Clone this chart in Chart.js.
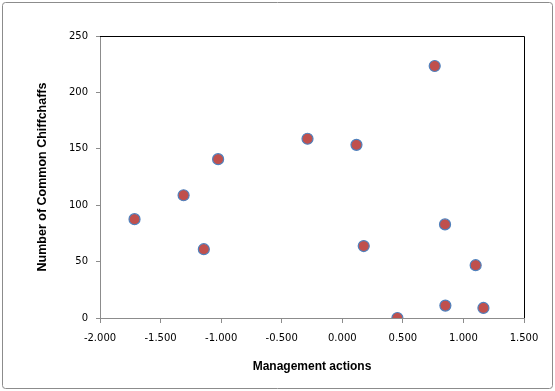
<!DOCTYPE html>
<html>
<head>
<meta charset="utf-8">
<script src="https://cdn.jsdelivr.net/npm/chart.js@4.4.0/dist/chart.umd.min.js"></script>
<style>
html,body{margin:0;padding:0;background:#fff;}
#wrap{width:555px;height:391px;position:relative;}
canvas{display:block;}
</style>
</head>
<body>
<div id="wrap"><canvas id="c" width="555" height="391"></canvas></div>
<script>
const managementActions = [-1.715, -1.310, -1.143, -1.025, -0.287, 0.117, 0.177, 0.763, 0.848, 0.851, 0.455, 1.101, 1.165];
const chiffchaffCounts = [87.6, 108.8, 61, 140.8, 158.9, 153.5, 63.8, 223.4, 83, 11, 0, 46.8, 8.9];
const xTicks = [-2.0, -1.5, -1.0, -0.5, 0.0, 0.5, 1.0, 1.5];
const yTicks = [0, 50, 100, 150, 200, 250];

const points = managementActions.map((x, i) => ({x: x, y: chiffchaffCounts[i]}));

const framePlugin = {
  id: 'frame',
  beforeDraw(chart) {
    const ctx = chart.ctx;
    ctx.save();
    ctx.fillStyle = '#fff';
    ctx.fillRect(0, 0, chart.width, chart.height);
    ctx.strokeStyle = '#8c8c8c';
    ctx.lineWidth = 1;
    const r = 3;
    const x0 = 2.5, y0 = 2.5, x1 = 552.5, y1 = 388.5;
    ctx.beginPath();
    ctx.moveTo(x0 + r, y0);
    ctx.lineTo(x1 - r, y0);
    ctx.quadraticCurveTo(x1, y0, x1, y0 + r);
    ctx.lineTo(x1, y1 - r);
    ctx.quadraticCurveTo(x1, y1, x1 - r, y1);
    ctx.lineTo(x0 + r, y1);
    ctx.quadraticCurveTo(x0, y1, x0, y1 - r);
    ctx.lineTo(x0, y0 + r);
    ctx.quadraticCurveTo(x0, y0, x0 + r, y0);
    ctx.stroke();
    ctx.restore();
  },
  afterDatasetsDraw(chart) {
    const ctx = chart.ctx;
    const a = chart.chartArea;
    ctx.save();
    ctx.strokeStyle = '#000';
    ctx.lineWidth = 1;
    ctx.beginPath();
    ctx.moveTo(a.left, a.top + 0.5);
    ctx.lineTo(a.right + 0.5, a.top + 0.5);
    ctx.lineTo(a.right + 0.5, a.bottom);
    ctx.stroke();
    ctx.restore();
  }
};

new Chart(document.getElementById('c'), {
  type: 'scatter',
  data: {
    datasets: [{
      data: points,
      backgroundColor: '#C0504D',
      borderColor: '#4F81BD',
      borderWidth: 1.2,
      pointRadius: 5.5,
      pointHoverRadius: 5.5
    }]
  },
  options: {
    responsive: false,
    animation: false,
    events: [],
    layout: {padding: {top: 36, right: 31, left: 0, bottom: 0}},
    plugins: {legend: {display: false}, tooltip: {enabled: false}},
    scales: {
      x: {
        type: 'linear',
        min: -2, max: 1.5,
        afterBuildTicks(axis) { axis.ticks = xTicks.map(v => ({value: v})); },
        afterFit(axis) { axis.height = 73; },
        ticks: {
          color: '#000',
          font: {family: 'DejaVu Sans', size: 10},
          padding: 9,
          callback: v => v.toFixed(3)
        },
        grid: {display: true, drawOnChartArea: false, drawTicks: true, tickLength: 5, color: '#8c8c8c'},
        border: {display: true, color: '#8c8c8c', width: 1},
        title: {
          display: true,
          text: 'Management actions',
          color: '#000',
          font: {family: 'Liberation Sans', size: 12, weight: 'bold'},
          padding: {top: 0, bottom: 17}
        }
      },
      y: {
        type: 'linear',
        min: 0, max: 250,
        afterBuildTicks(axis) { axis.ticks = yTicks.map(v => ({value: v})); },
        afterFit(axis) { axis.width = 100; },
        ticks: {
          color: '#000',
          font: {family: 'DejaVu Sans', size: 10},
          padding: 8
        },
        grid: {display: true, drawOnChartArea: false, drawTicks: true, tickLength: 4, color: '#8c8c8c'},
        border: {display: true, color: '#8c8c8c', width: 1},
        title: {
          display: true,
          text: 'Number of Common Chiffchaffs',
          color: '#000',
          font: {family: 'Liberation Sans', size: 12.5, weight: 'bold'},
          padding: {top: 35, bottom: 0}
        }
      }
    }
  },
  plugins: [framePlugin]
});
</script>
</body>
</html>
